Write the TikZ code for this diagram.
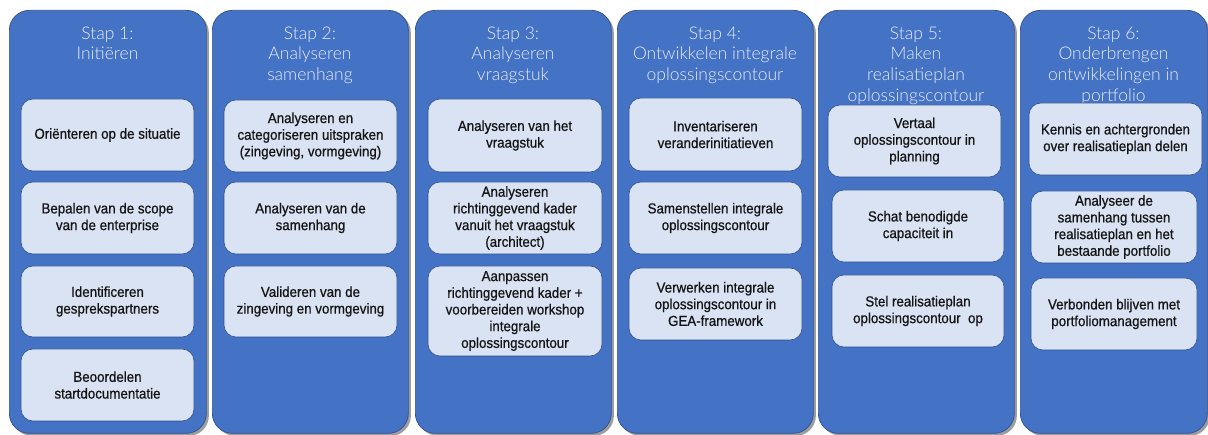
\documentclass[tikz,border=0pt]{standalone}
\usepackage{fontspec}
\setmainfont{Liberation Sans}
\newfontfamily\titlefont{Lato}[UprightFont=* Light]
\newfontfamily\boxfont{Liberation Sans}[FakeStretch=0.92,FakeBold=0.7]
\usetikzlibrary{shadows}
\definecolor{colblue}{RGB}{68,114,196}
\definecolor{colborder}{RGB}{47,82,143}
\definecolor{boxfill}{RGB}{218,227,243}
\definecolor{boxborder}{RGB}{47,82,143}
\definecolor{titlecol}{RGB}{232,236,244}
\tikzset{
  column/.style={draw=colborder, fill=colblue, line width=0.7pt, rounded corners=20pt,
    anchor=north west, inner sep=0pt, minimum height=423pt,
    drop shadow={shadow xshift=2.5pt, shadow yshift=-2.5pt, fill=black!55, opacity=0.7}},
  steptitle/.style={anchor=north, align=center, text=titlecol, inner sep=0pt,
    font=\titlefont\fontsize{17.5}{20.7}\selectfont},
  task/.style={draw=boxborder, fill=boxfill, line width=0.6pt, rounded corners=12pt,
    align=center, inner sep=0pt, text=black!92,
    font=\boxfont\fontsize{14.5}{16.7}\selectfont}
}
\begin{document}
\begin{tikzpicture}[x=1pt,y=-1pt]
\useasboundingbox (0,0) rectangle (1208,435);
% columns
\node[column, minimum width=197pt] (col1) at (9,10) {};
\node[column, minimum width=196pt] (col2) at (212,10) {};
\node[column, minimum width=196pt] (col3) at (415,10) {};
\node[column, minimum width=196pt] (col4) at (617,10) {};
\node[column, minimum width=196pt] (col5) at (818,10) {};
\node[column, minimum width=187pt] (col6) at (1020,10) {};
% titles
\node[steptitle] (t1) at (107.5,26.5) {Stap 1:\\Initiëren};
\node[steptitle] (t2) at (310,26.5) {Stap 2:\\Analyseren\\samenhang};
\node[steptitle] (t3) at (513,26.5) {Stap 3:\\Analyseren\\vraagstuk};
\node[steptitle] (t4) at (715,26.5) {Stap 4:\\Ontwikkelen integrale\\oplossingscontour};
\node[steptitle] (t5) at (916,26.5) {Stap 5:\\Maken\\realisatieplan\\oplossingscontour};
\node[steptitle] (t6) at (1113.5,26.5) {Stap 6:\\Onderbrengen\\ontwikkelingen in\\portfolio};
% column 1
\node[task, minimum width=173pt, minimum height=72pt] (a1) at (107.5,135) {Oriënteren op de situatie};
\node[task, minimum width=173pt, minimum height=72pt] (a2) at (107.5,218) {Bepalen van de scope\\van de enterprise};
\node[task, minimum width=173pt, minimum height=71pt] (a3) at (107.5,301.5) {Identificeren\\gesprekspartners};
\node[task, minimum width=173pt, minimum height=72pt] (a4) at (107.5,385) {Beoordelen\\startdocumentatie};
% column 2
\node[task, minimum width=173pt, minimum height=72pt] (b1) at (310.5,136) {Analyseren en\\categoriseren uitspraken\\(zingeving, vormgeving)};
\node[task, minimum width=173pt, minimum height=72pt] (b2) at (310.5,218) {Analyseren van de\\samenhang};
\node[task, minimum width=173pt, minimum height=71pt] (b3) at (310.5,301.5) {Valideren van de\\zingeving en vormgeving};
% column 3
\node[task, minimum width=174pt, minimum height=73pt] (c1) at (515,135.5) {Analyseren van het\\vraagstuk};
\node[task, minimum width=174pt, minimum height=72pt] (c2) at (515,218) {Analyseren\\richtinggevend kader\\vanuit het vraagstuk\\(architect)};
\node[task, minimum width=174pt, minimum height=90pt] (c3) at (515,311) {Aanpassen\\richtinggevend kader +\\voorbereiden workshop\\integrale\\oplossingscontour};
% column 4
\node[task, minimum width=173pt, minimum height=73pt] (d1) at (715.5,134.5) {Inventariseren\\veranderinitiatieven};
\node[task, minimum width=173pt, minimum height=72pt] (d2) at (715.5,218) {Samenstellen integrale\\oplossingscontour};
\node[task, minimum width=173pt, minimum height=72pt] (d3) at (715.5,304) {Verwerken integrale\\oplossingscontour in\\GEA-framework};
% column 5
\node[task, minimum width=173pt, minimum height=72pt] (e1) at (914.5,141) {Vertaal\\oplossingscontour in\\planning};
\node[task, minimum width=172pt, minimum height=72pt] (e2) at (918,226) {Schat benodigde\\capaciteit in};
\node[task, minimum width=172pt, minimum height=72pt] (e3) at (918,311) {Stel realisatieplan\\oplossingscontour\ \ op};
% column 6
\node[task, minimum width=173pt, minimum height=72pt] (f1) at (1115.5,139) {Kennis en achtergronden\\over realisatieplan delen};
\node[task, minimum width=166pt, minimum height=72pt] (f2) at (1114,227) {Analyseer de\\samenhang tussen\\realisatieplan en het\\bestaande portfolio};
\node[task, minimum width=166pt, minimum height=72pt] (f3) at (1114,314) {Verbonden blijven met\\portfoliomanagement};
\end{tikzpicture}
\end{document}
